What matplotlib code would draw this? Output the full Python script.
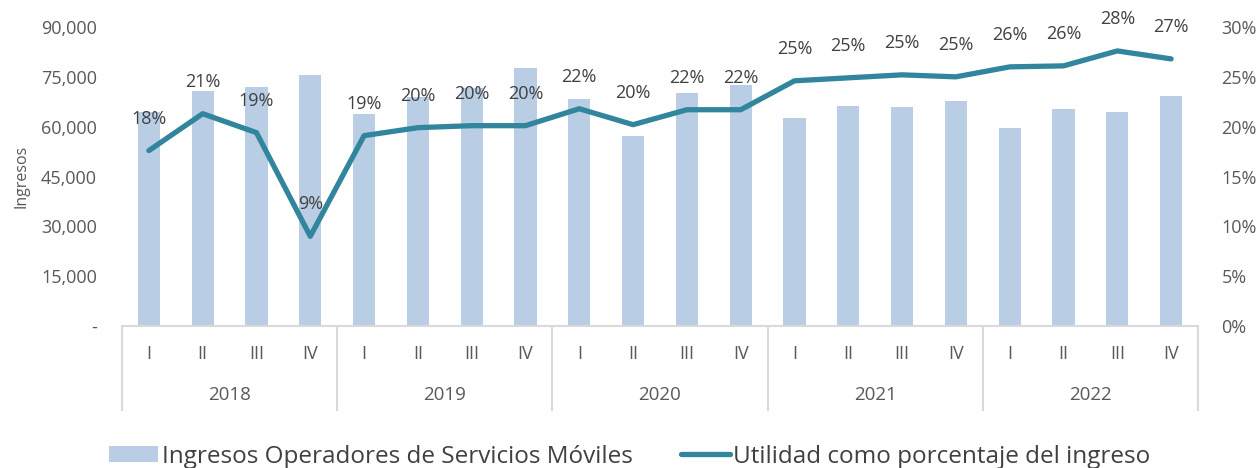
import matplotlib.pyplot as plt
from matplotlib.patches import Patch
from matplotlib.lines import Line2D
import numpy as np

plt.rcParams['font.family'] = ['Open Sans', 'DejaVu Sans']

# data
years = ['2018', '2019', '2020', '2021', '2022']
quarters = ['I', 'II', 'III', 'IV']
ingresos = [64300, 70800, 72000, 75500,
            63700, 69000, 71500, 77800,
            68300, 57100, 70100, 72500,
            62500, 66200, 65800, 67800,
            59600, 65300, 64300, 69300]
utilidad = [17.6, 21.3, 19.4, 9.0,
            19.1, 19.9, 20.1, 20.1,
            21.8, 20.2, 21.7, 21.7,
            24.6, 24.9, 25.2, 25.0,
            26.0, 26.1, 27.6, 26.8]

bar_color = '#B9CDE5'
line_color = '#31859C'
text_color = '#595959'
grid_gray = '#D9D9D9'

n = len(ingresos)
x = np.arange(n)

fig = plt.figure(figsize=(12.6, 4.68), dpi=100)
ax = fig.add_axes([0.0968, 0.3034, 0.8540, 0.6389])
ax.bar(x, ingresos, width=0.41, color=bar_color, zorder=1)
ax.set_xlim(-0.5, n - 0.5)
ax.set_ylim(0, 90000)
ax.set_yticks(np.arange(0, 90001, 15000))
ax.set_yticklabels(['-'] + ['{:,}'.format(v) for v in range(15000, 90001, 15000)])
ax.tick_params(axis='y', length=0, labelsize=13, colors=text_color, pad=18)
ax.set_ylabel('Ingresos', fontsize=11.5, color=text_color, labelpad=8)
for s in ['top', 'right', 'left']:
    ax.spines[s].set_visible(False)
ax.spines['bottom'].set_color(grid_gray)
ax.spines['bottom'].set_linewidth(1.5)

# category axis: quarters and years
ax.set_xticks([])
trans = ax.get_xaxis_transform()
for i in range(n):
    ax.text(i, -0.094, quarters[i % 4], transform=trans, ha='center', va='center',
            fontsize=13, color=text_color)
for g, yr in enumerate(years):
    ax.text(g * 4 + 1.5, -0.231, yr, transform=trans, ha='center', va='center',
            fontsize=13.5, color=text_color)
for b in np.arange(-0.5, n, 4):
    ax.plot([b, b], [0, -0.281], transform=trans, color=grid_gray, lw=1.5,
            clip_on=False)

ax2 = ax.twinx()
ax2.plot(x, utilidad, color=line_color, lw=3.8, solid_capstyle='round',
         solid_joinstyle='round', zorder=3)
ax2.set_ylim(0, 30)
ax2.set_yticks(np.arange(0, 31, 5))
ax2.set_yticklabels(['{}%'.format(v) for v in range(0, 31, 5)])
ax2.tick_params(axis='y', length=0, labelsize=13, colors=text_color, pad=17)
for s in ['top', 'right', 'left', 'bottom']:
    ax2.spines[s].set_visible(False)

for i, v in enumerate(utilidad):
    ax2.annotate('{:.0f}%'.format(v), (i, v), xytext=(0, 23),
                 textcoords='offset points', ha='center', va='center',
                 fontsize=13, color='#404040')

handles = [Patch(facecolor=bar_color, edgecolor='none'),
           Line2D([0], [0], color=line_color, lw=3.8, solid_capstyle='round')]
fig.legend(handles, ['Ingresos Operadores de Servicios Móviles',
                     'Utilidad como porcentaje del ingreso'],
           loc='center', bbox_to_anchor=(0.5, 0.024), ncol=2, frameon=False,
           fontsize=17.5, handlelength=2.0, handleheight=0.65, handletextpad=0.15,
           columnspacing=2.0, labelcolor='#404040')

fig.savefig('out.png', dpi=100)
